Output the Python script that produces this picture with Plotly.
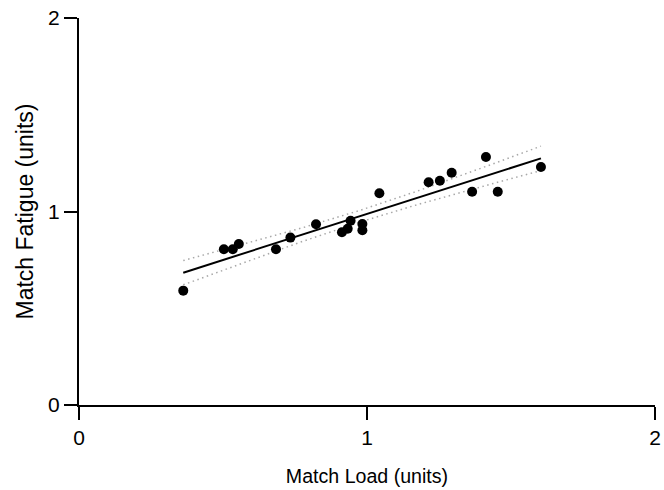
import numpy as np
import plotly.graph_objects as go

# Match load vs. match fatigue, one point per match
match_load = [0.362, 0.503, 0.534, 0.555, 0.684, 0.734, 0.823, 0.913, 0.933, 0.943,
              0.984, 0.984, 1.043, 1.214, 1.253, 1.294, 1.365, 1.413, 1.454, 1.604]
match_fatigue = [0.591, 0.805, 0.805, 0.832, 0.805, 0.865, 0.934, 0.893, 0.911, 0.952,
                 0.935, 0.903, 1.094, 1.151, 1.159, 1.200, 1.102, 1.282, 1.102, 1.230]

x_ticks = [0, 1, 2]
y_ticks = [0, 1, 2]

# Least-squares fit with 95% confidence band of the mean
x = np.array(match_load)
y = np.array(match_fatigue)
n = len(x)
slope, intercept = np.polyfit(x, y, 1)
resid = y - (slope * x + intercept)
s = np.sqrt(np.sum(resid ** 2) / (n - 2))
t_crit = 2.101  # t(0.975, df=18)
xf = np.linspace(x.min(), x.max(), 100)
yf = slope * xf + intercept
se = s * np.sqrt(1 / n + (xf - x.mean()) ** 2 / np.sum((x - x.mean()) ** 2))
upper = yf + t_crit * se
lower = yf - t_crit * se

FONT = "Liberation Sans, Arial"

fig = go.Figure()
for band in (upper, lower):
    fig.add_trace(go.Scatter(x=xf, y=band, mode="lines",
                             line=dict(color="#a8a8a8", width=1.5, dash="1.5px,3.5px"),
                             hoverinfo="skip", showlegend=False))
fig.add_trace(go.Scatter(x=xf, y=yf, mode="lines",
                         line=dict(color="black", width=2), showlegend=False))
fig.add_trace(go.Scatter(x=match_load, y=match_fatigue, mode="markers",
                         marker=dict(color="black", size=10), showlegend=False))

axis_common = dict(
    showgrid=False, zeroline=False, showline=True, linecolor="black", linewidth=2,
    ticks="outside", ticklen=13, tickwidth=2, tickcolor="black", automargin=False,
    tickfont=dict(family=FONT, size=21, color="black"),
)
fig.update_xaxes(range=[0, 2], tickvals=x_ticks, ticktext=[str(v) for v in x_ticks],
                 title=dict(text="Match Load (units)", standoff=21,
                            font=dict(family=FONT, size=19.6, color="black")),
                 **axis_common)
fig.update_yaxes(range=[0, 2], tickvals=y_ticks, ticktext=[str(v) for v in y_ticks],
                 title=dict(text="Match Fatigue (units)", standoff=8,
                            font=dict(family=FONT, size=23, color="black")),
                 **axis_common)
fig.update_layout(
    width=664, height=490,
    margin=dict(l=79, r=9, t=18, b=85),
    plot_bgcolor="white", paper_bgcolor="white",
)
fig.write_html("out.html")
